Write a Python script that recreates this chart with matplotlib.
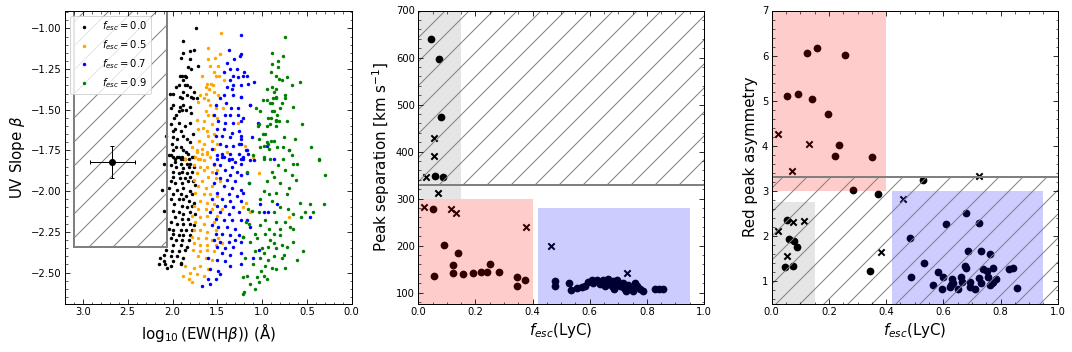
import numpy as np
import matplotlib
matplotlib.use('Agg')
import matplotlib.pyplot as plt
from matplotlib.patches import Rectangle
from matplotlib.ticker import MultipleLocator

# ---- panel 1: UV slope vs log10 EW(Hbeta), one cloud per f_esc ----
fesc00 = [(1.74,-1.00),(1.88,-1.08),(1.76,-1.13),(1.81,-1.14),(1.88,-1.15),(1.90,-1.18),(1.80,-1.19),(1.71,-1.23),(1.83,-1.24),(1.79,-1.25),
          (1.92,-1.29),(1.89,-1.29),(1.86,-1.29),(1.85,-1.30),(1.88,-1.32),(1.86,-1.35),(1.96,-1.36),(1.84,-1.35),(1.93,-1.35),(1.88,-1.39),
          (1.81,-1.36),(1.76,-1.39),(2.03,-1.40),(1.99,-1.40),(1.92,-1.42),(1.79,-1.42),(1.84,-1.41),(1.89,-1.43),(1.77,-1.43),(1.73,-1.43),
          (1.99,-1.47),(1.92,-1.48),(1.88,-1.47),(1.81,-1.48),(1.89,-1.50),(1.93,-1.51),(1.85,-1.50),(1.79,-1.52),(2.02,-1.49),(1.96,-1.53),
          (1.98,-1.55),(2.02,-1.59),(1.93,-1.58),(1.86,-1.60),(1.81,-1.58),(1.97,-1.62),(1.99,-1.63),(1.91,-1.63),(1.88,-1.66),(1.77,-1.65),
          (1.84,-1.68),(1.99,-1.67),(1.95,-1.68),(2.07,-1.66),(1.81,-1.70),(2.01,-1.71),(1.96,-1.73),(1.91,-1.73),(1.99,-1.75),(1.88,-1.75),
          (1.85,-1.76),(2.02,-1.78),(1.93,-1.79),(1.91,-1.80),(1.97,-1.80),(1.88,-1.80),(1.82,-1.80),(1.76,-1.79),
          (2.04,-1.78),(2.00,-1.79),(1.95,-1.79),(1.89,-1.79),(1.86,-1.80),(1.83,-1.77),(1.78,-1.79),(1.97,-1.82),(1.91,-1.83),(1.84,-1.83),
          (1.80,-1.83),(2.02,-1.84),(1.96,-1.85),(1.88,-1.86),(1.82,-1.85),(1.76,-1.85),(2.00,-1.88),(1.93,-1.89),(1.89,-1.88),(1.84,-1.89),
          (1.78,-1.88),(1.99,-1.91),(1.92,-1.92),(1.86,-1.92),(1.80,-1.91),(2.02,-1.94),(1.97,-1.95),(1.89,-1.95),(1.83,-1.94),(1.77,-1.94),
          (1.75,-1.96),(2.04,-1.98),(1.95,-1.99),(1.88,-1.98),(1.81,-2.00),(1.99,-2.02),(1.91,-2.02),(1.85,-2.03),(1.78,-2.02),(2.02,-2.05),
          (1.93,-2.05),(1.88,-2.05),(1.82,-2.06),(1.76,-2.07),(1.98,-2.08),(1.89,-2.09),(1.84,-2.10),(1.78,-2.09),(2.00,-2.12),(1.93,-2.13),
          (1.88,-2.14),(1.80,-2.13),(1.75,-2.14),(1.97,-2.16),(1.89,-2.17),(1.83,-2.17),(2.02,-2.19),(1.95,-2.20),(1.88,-2.20),(1.81,-2.20),
          (1.76,-2.21),(2.04,-2.23),(1.99,-2.24),(1.91,-2.24),(1.85,-2.24),(1.78,-2.24),(2.00,-2.26),(1.93,-2.27),(1.88,-2.27),(1.81,-2.27),
          (2.02,-2.29),(1.96,-2.30),(1.89,-2.30),(1.82,-2.30),(1.99,-2.33),(1.91,-2.33),(1.84,-2.34),(2.07,-2.36),(2.01,-2.37),(1.93,-2.37),
          (1.86,-2.36),(2.10,-2.39),(2.14,-2.41),(2.02,-2.40),(1.95,-2.40),(1.88,-2.41),(2.15,-2.45),(2.08,-2.45),(1.99,-2.43),(1.91,-2.44),
          (2.02,-2.46),(2.10,-2.43),(2.06,-2.47),(1.90,-2.45),(2.10,-1.83),(2.12,-1.99),(2.09,-2.12)]

fesc05 = [(1.46,-1.03),(1.60,-1.12),(1.47,-1.16),(1.53,-1.18),(1.60,-1.19),(1.58,-1.23),(1.49,-1.23),(1.67,-1.29),(1.54,-1.27),(1.51,-1.29),
          (1.48,-1.29),(1.43,-1.32),(1.62,-1.34),(1.57,-1.34),(1.55,-1.35),(1.63,-1.36),(1.59,-1.37),(1.54,-1.39),(1.69,-1.41),(1.49,-1.41),
          (1.63,-1.40),(1.72,-1.45),(1.65,-1.43),(1.60,-1.44),(1.58,-1.47),(1.52,-1.49),(1.44,-1.49),(1.63,-1.51),(1.55,-1.53),(1.60,-1.53),
          (1.73,-1.56),(1.65,-1.57),(1.50,-1.55),(1.27,-1.58),(1.56,-1.59),(1.71,-1.62),(1.66,-1.61),(1.62,-1.63),(1.54,-1.65),(1.60,-1.66),
          (1.70,-1.69),(1.65,-1.71),(1.56,-1.69),(1.50,-1.71),(1.78,-1.73),(1.73,-1.75),(1.67,-1.74),(1.62,-1.76),(1.75,-1.79),(1.69,-1.80),
          (1.86,-1.80),(1.54,-1.74),
          (1.73,-1.76),(1.67,-1.77),(1.62,-1.77),(1.71,-1.80),(1.65,-1.81),(1.58,-1.79),(1.54,-1.84),(1.76,-1.84),(1.69,-1.85),(1.62,-1.85),
          (1.65,-1.87),(1.56,-1.88),(1.50,-1.87),(1.73,-1.89),(1.60,-1.91),(1.52,-1.92),(1.76,-1.93),(1.67,-1.94),(1.47,-1.94),(1.71,-1.97),
          (1.63,-1.98),(1.56,-1.97),(1.75,-2.01),(1.65,-2.02),(1.58,-2.02),(1.50,-2.03),(1.69,-2.06),(1.62,-2.07),(1.54,-2.08),(1.76,-2.09),
          (1.71,-2.11),(1.63,-2.11),(1.56,-2.11),(1.45,-2.11),(1.78,-2.15),(1.69,-2.16),(1.62,-2.15),(1.50,-2.15),(1.75,-2.19),(1.65,-2.20),
          (1.54,-2.19),(1.76,-2.24),(1.69,-2.24),(1.62,-2.25),(1.52,-2.24),(1.78,-2.28),(1.71,-2.29),(1.63,-2.29),(1.56,-2.30),(1.49,-2.29),
          (1.76,-2.32),(1.69,-2.33),(1.62,-2.33),(1.52,-2.33),(1.45,-2.32),(1.77,-2.36),(1.69,-2.37),(1.62,-2.36),(1.54,-2.37),(1.71,-2.40),
          (1.63,-2.41),(1.56,-2.42),(1.76,-2.47),(1.69,-2.46),(1.60,-2.48),(1.86,-2.46),(1.80,-2.50),(1.88,-2.52),(1.73,-2.51),(1.65,-2.52),
          (1.82,-2.54),(1.78,-2.56),(1.39,-1.76),
          (1.04,-1.89),(0.70,-2.16),(1.18,-2.07),(1.10,-1.79),(1.13,-2.13),(1.19,-1.72),(1.21,-2.10)]

fesc07 = [(1.24,-1.04),(1.37,-1.13),(1.25,-1.17),(1.31,-1.19),(1.39,-1.21),(1.36,-1.25),(1.28,-1.25),(1.42,-1.27),(1.32,-1.29),(1.27,-1.30),
          (1.17,-1.29),(1.36,-1.32),(1.39,-1.36),(1.33,-1.35),(1.34,-1.37),(1.23,-1.35),(1.47,-1.43),(1.43,-1.41),(1.33,-1.41),(1.24,-1.42),
          (1.14,-1.47),(1.52,-1.47),(1.40,-1.46),(1.35,-1.49),(1.27,-1.49),(1.54,-1.53),(1.41,-1.53),(1.36,-1.53),(1.27,-1.53),(1.49,-1.57),
          (1.41,-1.58),(1.33,-1.58),(1.23,-1.57),(1.50,-1.62),(1.43,-1.62),(1.34,-1.64),(1.26,-1.63),(1.52,-1.66),(1.45,-1.66),(1.36,-1.67),
          (1.24,-1.68),(1.47,-1.71),(1.40,-1.72),(1.32,-1.72),(1.26,-1.71),(1.56,-1.74),(1.45,-1.77),(1.36,-1.77),(1.26,-1.77),(1.17,-1.75),
          (1.50,-1.80),(1.43,-1.79),(1.34,-1.80),(1.23,-1.80),(1.37,-1.81),
          (1.24,-1.16),(1.20,-1.27),(1.21,-1.29),(1.16,-1.34),(1.09,-1.33),(1.23,-1.42),(1.14,-1.47),(1.21,-1.55),(1.05,-1.58),(1.24,-1.66),
          (1.11,-1.67),(0.95,-1.72),(1.24,-1.71),(1.18,-1.75),(1.16,-1.77),(1.21,-1.80),(0.87,-1.80),
          (1.50,-1.78),(1.45,-1.79),(1.37,-1.80),(1.30,-1.82),(1.24,-1.83),(1.54,-1.83),(1.47,-1.84),(1.34,-1.85),(1.41,-1.87),(1.28,-1.88),
          (1.52,-1.89),(1.36,-1.90),(1.23,-1.90),(1.47,-1.92),(1.39,-1.93),(1.30,-1.94),(1.54,-1.95),(1.43,-1.97),(1.34,-1.98),(1.24,-1.99),
          (1.50,-2.01),(1.37,-2.02),(1.28,-2.03),(1.56,-2.05),(1.45,-2.05),(1.36,-2.06),(1.23,-2.06),(1.50,-2.09),(1.41,-2.09),(1.32,-2.10),
          (1.58,-2.13),(1.47,-2.13),(1.37,-2.14),(1.26,-2.13),(1.52,-2.17),(1.43,-2.18),(1.34,-2.18),(1.24,-2.18),(1.56,-2.21),(1.49,-2.22),
          (1.39,-2.22),(1.30,-2.23),(1.52,-2.26),(1.45,-2.26),(1.36,-2.27),(1.26,-2.27),(1.54,-2.30),(1.47,-2.31),(1.37,-2.31),(1.30,-2.30),
          (1.50,-2.34),(1.41,-2.35),(1.33,-2.34),(1.45,-2.38),(1.36,-2.39),(1.24,-2.38),(1.60,-2.41),(1.50,-2.42),(1.41,-2.43),(1.58,-2.48),
          (1.49,-2.49),(1.36,-2.46),(1.60,-2.54),(1.52,-2.54),(1.47,-2.51),(1.67,-2.58),(1.58,-2.57),
          (1.21,-1.79),(1.14,-1.81),(1.09,-1.81),(1.17,-1.89),(1.15,-1.95),(1.21,-2.01),(1.02,-2.08),(0.98,-2.13),(0.93,-2.13),(0.83,-2.08),
          (0.46,-2.16),(1.17,-2.18),(1.14,-2.22),(1.23,-2.31),(1.10,-2.41),(1.23,-2.45),(1.03,-2.36)]

fesc09 = [(0.74,-1.05),(0.89,-1.15),(0.77,-1.17),(0.82,-1.20),(0.89,-1.22),(0.82,-1.24),(0.90,-1.27),(0.85,-1.29),(0.72,-1.30),(0.81,-1.31),
          (0.78,-1.32),(0.67,-1.35),(0.58,-1.33),(0.94,-1.37),(0.89,-1.36),(0.85,-1.37),(0.87,-1.39),(0.74,-1.41),(0.85,-1.42),(0.84,-1.43),
          (0.88,-1.43),(0.75,-1.43),(0.99,-1.44),(0.95,-1.44),(0.78,-1.46),(0.91,-1.46),(0.89,-1.46),(0.65,-1.48),(1.07,-1.49),(1.02,-1.51),
          (0.87,-1.51),(0.80,-1.49),(0.89,-1.51),(0.83,-1.53),(0.93,-1.55),(0.90,-1.55),(0.84,-1.56),(0.81,-1.57),(0.72,-1.57),(0.85,-1.57),
          (0.56,-1.59),(1.03,-1.59),(1.05,-1.60),(0.91,-1.59),(0.94,-1.60),(0.84,-1.60),(0.97,-1.65),(0.99,-1.65),(0.76,-1.67),(0.63,-1.68),
          (1.04,-1.68),(0.90,-1.69),(0.87,-1.69),(0.95,-1.70),(0.93,-1.71),(0.98,-1.72),(0.45,-1.73),(0.83,-1.73),(0.77,-1.73),(1.02,-1.73),
          (0.92,-1.74),(0.70,-1.75),(1.10,-1.78),(0.67,-1.78),(0.98,-1.80),(0.36,-1.80),(0.91,-1.80),(0.77,-1.80),
          (0.70,-1.75),(0.98,-1.79),(0.36,-1.81),(0.61,-1.83),(0.65,-1.83),(0.82,-1.84),(0.75,-1.87),(0.67,-1.90),(0.30,-1.90),(0.89,-1.88),
          (0.87,-1.91),(0.62,-1.93),(0.95,-1.94),(0.80,-1.95),(0.70,-1.98),(0.98,-2.00),(0.92,-2.02),(0.85,-2.01),(0.72,-2.02),(1.02,-2.05),
          (0.89,-2.06),(0.58,-2.07),(0.46,-2.08),(0.31,-2.08),(0.80,-2.10),(0.71,-2.11),(0.52,-2.13),(1.11,-2.12),(1.04,-2.13),(0.87,-2.13),
          (0.65,-2.14),(0.43,-2.13),(0.57,-2.16),(0.97,-2.18),(0.84,-2.19),(0.74,-2.19),(1.15,-2.20),(1.02,-2.21),(0.69,-2.22),(0.92,-2.23),
          (0.80,-2.23),(0.66,-2.23),(1.08,-2.26),(0.97,-2.26),(0.87,-2.26),(0.80,-2.27),(1.21,-2.28),(1.06,-2.29),(0.91,-2.30),(0.65,-2.31),
          (1.13,-2.31),(0.87,-2.32),(0.78,-2.33),(0.72,-2.34),(0.54,-2.37),(1.00,-2.35),(0.93,-2.34),(0.84,-2.35),(1.08,-2.37),(0.98,-2.38),
          (0.76,-2.39),(0.87,-2.40),(0.61,-2.42),(1.02,-2.41),(0.93,-2.42),(0.78,-2.41),(1.10,-2.45),(0.97,-2.46),(0.89,-2.47),(0.74,-2.47),
          (1.01,-2.49),(0.85,-2.48),(1.17,-2.52),(1.06,-2.53),(0.98,-2.52),(1.13,-2.57),(1.04,-2.56),(0.95,-2.54),(1.08,-2.60),(1.21,-2.63),
          (1.17,-1.88),(1.15,-1.95),(1.16,-2.11),(1.18,-2.19),(1.21,-2.28),(1.19,-2.41),(1.21,-2.53),(1.20,-2.62)]

obs_ew, obs_beta = 2.67, -1.82
obs_ew_err, obs_beta_err = 0.25, 0.10

# ---- panel 2: peak separation vs fesc ----
sep_dots = [(0.044,639),(0.074,597),(0.081,474),(0.060,349),(0.086,345),(0.052,277),(0.091,202),(0.140,185),(0.123,159),(0.123,142),
            (0.056,136),(0.158,139),(0.193,142),(0.219,144),(0.239,144),(0.252,161),(0.284,144),(0.347,134),(0.372,128),(0.344,115),
            (0.478,125),(0.478,114),(0.529,121),(0.533,106),(0.557,110),(0.572,113),(0.583,114),(0.595,122),(0.607,127),(0.613,121),
            (0.624,128),(0.636,118),(0.648,127),(0.653,114),(0.665,130),(0.671,121),(0.677,114),(0.685,108),(0.694,118),(0.706,114),
            (0.718,121),(0.720,111),(0.727,103),(0.735,116),(0.747,108),(0.759,120),(0.767,114),(0.776,108),(0.788,103),(0.829,107),
            (0.844,107),(0.858,107),(0.697,127),(0.683,125),(0.659,125),(0.729,108),(0.753,103)]
sep_crosses = [(0.055,429),(0.055,391),(0.027,347),(0.070,311),(0.020,282),(0.116,277),(0.133,270),(0.377,240),(0.463,199),(0.729,142)]

# ---- panel 3: red peak asymmetry vs fesc ----
asym_dots = [(0.125,6.06),(0.160,6.17),(0.255,6.01),(0.055,5.11),(0.093,5.15),(0.142,5.03),(0.198,4.71),(0.237,4.02),(0.223,3.78),(0.350,3.76),
             (0.286,3.01),(0.372,2.92),(0.530,3.23),(0.345,1.22),(0.055,2.35),(0.062,1.92),(0.079,1.88),(0.090,1.75),(0.047,1.32),(0.076,1.34),
             (0.679,2.51),(0.609,2.27),(0.726,2.28),(0.484,1.95),(0.687,1.66),(0.732,1.66),(0.763,1.60),(0.533,1.40),(0.583,1.20),(0.676,1.33),
             (0.679,1.29),(0.740,1.27),(0.754,1.21),(0.775,1.29),(0.831,1.27),(0.845,1.29),(0.488,1.09),(0.600,1.09),(0.629,1.05),(0.662,1.08),
             (0.726,1.07),(0.755,1.09),(0.635,0.96),(0.664,0.98),(0.693,0.98),(0.731,0.96),(0.769,0.96),(0.784,1.04),(0.563,0.90),(0.594,0.83),
             (0.623,0.86),(0.652,0.82),(0.693,0.87),(0.711,0.82),(0.763,0.90),(0.857,0.85),(0.626,0.92),(0.775,0.98)]
asym_crosses = [(0.023,4.27),(0.132,4.03),(0.071,3.45),(0.725,3.33),(0.460,2.82),(0.023,2.10),(0.076,2.30),(0.113,2.32),(0.055,1.56),(0.383,1.64)]

plt.rcParams['xtick.direction'] = 'in'
plt.rcParams['ytick.direction'] = 'in'
plt.rcParams['xtick.top'] = True
plt.rcParams['ytick.right'] = True
plt.rcParams['xtick.minor.visible'] = True
plt.rcParams['ytick.minor.visible'] = True
plt.rcParams['xtick.major.size'] = 5
plt.rcParams['ytick.major.size'] = 5
plt.rcParams['xtick.minor.size'] = 2.5
plt.rcParams['ytick.minor.size'] = 2.5
plt.rcParams['axes.linewidth'] = 1.0

W, H = 1072, 352
fig = plt.figure(figsize=(W/72, H/72), dpi=72)
ax1 = fig.add_axes([65/W, 48.5/H, 286.7/W, 293/H])
ax2 = fig.add_axes([418.3/W, 48.5/H, 285.7/W, 293/H])
ax3 = fig.add_axes([771.7/W, 48.5/H, 286/W, 293/H])

# panel 1
for pts, col, lab in [(fesc00, 'black', '$f_{esc} = 0.0$'), (fesc05, 'orange', '$f_{esc} = 0.5$'),
                      (fesc07, 'blue', '$f_{esc} = 0.7$'), (fesc09, 'green', '$f_{esc} = 0.9$')]:
    a = np.array(pts)
    ax1.scatter(a[:, 0], a[:, 1], s=12, color=col, linewidths=0, label=lab)
ax1.add_patch(Rectangle((2.06, -2.34), 1.04, 2.0, fill=False, hatch='/', edgecolor='gray', lw=2))
ax1.errorbar([obs_ew], [obs_beta], xerr=[obs_ew_err], yerr=[obs_beta_err], fmt='o', color='black',
             ms=6, capsize=2, elinewidth=1)
ax1.set_xlim(3.2, 0)
ax1.set_ylim(-2.69, -0.89)
ax1.yaxis.set_major_locator(MultipleLocator(0.25))
ax1.set_xlabel(r'$\log_{10}$(EW(H$\beta$)) ($\mathrm{\AA}$)', fontsize=15)
ax1.set_ylabel(r'UV Slope $\beta$', fontsize=15)
ax1.legend(loc='upper left', fontsize=10)

# panel 2
d = np.array(sep_dots)
c = np.array(sep_crosses)
ax2.scatter(d[:, 0], d[:, 1], s=60, color='black', linewidths=0)
ax2.scatter(c[:, 0], c[:, 1], s=40, marker='x', color='black', linewidths=2)
ax2.add_patch(Rectangle((0, 300), 0.15, 500, color='black', alpha=0.1, lw=0))
ax2.add_patch(Rectangle((0, 0), 0.40, 300, color='red', alpha=0.2, lw=0))
ax2.add_patch(Rectangle((0.42, 0), 0.53, 280, color='blue', alpha=0.2, lw=0))
ax2.add_patch(Rectangle((-0.1, 328), 1.2, 600, fill=False, hatch='/', edgecolor='gray', lw=2))
ax2.set_xlim(0, 1)
ax2.set_ylim(77, 700)
ax2.set_xlabel(r'$f_{esc}$(LyC)', fontsize=15)
ax2.set_ylabel(r'Peak separation [km s$^{-1}$]', fontsize=15)

# panel 3
d = np.array(asym_dots)
c = np.array(asym_crosses)
ax3.scatter(d[:, 0], d[:, 1], s=60, color='black', linewidths=0)
ax3.scatter(c[:, 0], c[:, 1], s=40, marker='x', color='black', linewidths=2)
ax3.add_patch(Rectangle((0, 0), 0.15, 2.75, color='black', alpha=0.1, lw=0))
ax3.add_patch(Rectangle((0, 3.0), 0.40, 5, color='red', alpha=0.2, lw=0))
ax3.add_patch(Rectangle((0.42, 0), 0.53, 3.0, color='blue', alpha=0.2, lw=0))
ax3.add_patch(Rectangle((-0.1, -1), 1.2, 4.3, fill=False, hatch='/', edgecolor='gray', lw=2))
ax3.set_xlim(0, 1)
ax3.set_ylim(0.5, 7)
ax3.set_xlabel(r'$f_{esc}$(LyC)', fontsize=15)
ax3.set_ylabel('Red peak asymmetry', fontsize=15)

fig.savefig('out.png', dpi=72)
